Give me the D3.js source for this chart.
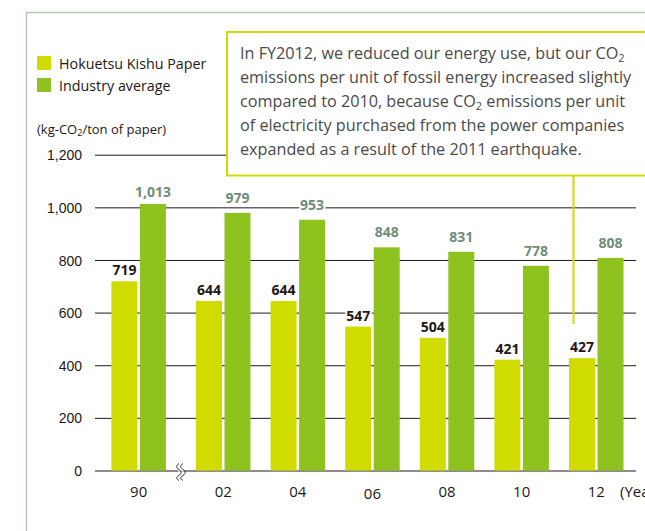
<!DOCTYPE html>
<html>
<head>
<meta charset="utf-8">
<script src="https://cdn.jsdelivr.net/npm/d3@7"></script>
<style>
  body { margin: 0; background: #fff; }
  svg { font-family: "Open Sans", sans-serif; }
  .tick line { stroke: #231815; }
  .tick text { fill: #231815; font-size: 14px; }
</style>
</head>
<body>
<svg id="svg" width="645" height="531"></svg>
<script>
var years = ["90", "02", "04", "06", "08", "10", "12"];
var hokuetsu = [719, 644, 644, 547, 504, 421, 427];
var industry = [1013, 979, 953, 848, 831, 778, 808];
var yTicks = [0, 200, 400, 600, 800, 1000, 1200];
var seriesNames = ["Hokuetsu Kishu Paper", "Industry average"];
var note = [
  [["In FY2012, we reduced our energy use, but our CO"], ["2", "sub"]],
  [["emissions per unit of fossil energy increased slightly"]],
  [["compared to 2010, because CO"], ["2", "sub"], [" emissions per unit"]],
  [["of electricity purchased from the power companies"]],
  [["expanded as a result of the 2011 earthquake."]]
];

var yellow = "#d0db00",
    green = "#8dc21f",
    ink = "#231815";

var svg = d3.select("#svg");

// frame
svg.append("path")
    .attr("d", "M26.5,531V12.5H645")
    .attr("fill", "none")
    .attr("stroke", "#b4c7b4")
    .attr("stroke-width", 1.5);

var y = d3.scaleLinear()
    .domain([0, 1200])
    .range([470.5, 154.7]);

// groups 02..12 evenly spaced, 90 sits before a axis break
var x = d3.scaleLinear()
    .domain([1, 6])
    .range([196, 569]);
var breakGap = 10;
var barW = 26, barGap = 2.5;

function groupX(i) {
  return i == 0 ? x(0) - breakGap : x(i);
}

svg.append("g")
    .attr("transform", "translate(95,0)")
    .call(d3.axisLeft(y)
      .tickValues(yTicks)
      .tickSize(-541)
      .tickPadding(13)
      .tickFormat(d3.format(",")))
  .call(function(g) { g.select(".domain").remove(); })
  .selectAll(".tick text")
    .attr("dy", "0.36em");

var groups = svg.append("g").selectAll("g")
    .data(years)
  .enter().append("g")
    .attr("transform", function(d, i) { return "translate(" + groupX(i) + ",0)"; });

groups.append("rect")
    .attr("x", 0)
    .attr("width", barW)
    .attr("y", function(d, i) { return y(hokuetsu[i]); })
    .attr("height", function(d, i) { return y(0) - y(hokuetsu[i]); })
    .attr("fill", yellow);

groups.append("rect")
    .attr("x", barW + barGap)
    .attr("width", barW)
    .attr("y", function(d, i) { return y(industry[i]); })
    .attr("height", function(d, i) { return y(0) - y(industry[i]); })
    .attr("fill", green);

// value labels (white halo breaks the gridlines like the original)
groups.append("text")
    .attr("x", barW / 2)
    .attr("y", function(d, i) { return y(hokuetsu[i]) - 6; })
    .attr("text-anchor", "middle")
    .attr("font-size", 14)
    .attr("font-weight", "bold")
    .attr("fill", ink)
    .attr("stroke", "#fff")
    .attr("stroke-width", 4)
    .attr("paint-order", "stroke")
    .text(function(d, i) { return d3.format(",")(hokuetsu[i]); });

groups.append("text")
    .attr("x", barW + barGap + barW / 2)
    .attr("y", function(d, i) { return y(industry[i]) - (i == 0 ? 7 : 10); })
    .attr("text-anchor", "middle")
    .attr("font-size", 14)
    .attr("font-weight", "bold")
    .attr("fill", "#6f8d78")
    .attr("stroke", "#fff")
    .attr("stroke-width", 4)
    .attr("paint-order", "stroke")
    .text(function(d, i) { return d3.format(",")(industry[i]); });

groups.append("text")
    .attr("x", barW + barGap / 2)
    .attr("y", function(d, i) { return i == 3 ? 499 : 497; })
    .attr("text-anchor", "middle")
    .attr("font-size", 15)
    .attr("fill", ink)
    .text(function(d) { return d; });

svg.append("text")
    .attr("x", 620)
    .attr("y", 497)
    .attr("font-size", 15)
    .attr("fill", ink)
    .text("(Year)");

// axis break mark
var bx = (groupX(0) + barW * 2 + barGap + groupX(1)) / 2;
svg.append("rect")
    .attr("x", bx - 3)
    .attr("y", y(0) - 1)
    .attr("width", 6)
    .attr("height", 2)
    .attr("fill", "#fff");
[-2, 2].forEach(function(o) {
  svg.append("path")
      .attr("d", "M" + (bx + o) + "," + (y(0) - 7) +
        "c-3,2 -3,4 0,6 c3,2 3,4 0,6 c-3,2 -3,3 0,5")
      .attr("fill", "none")
      .attr("stroke", ink)
      .attr("stroke-width", 0.9);
});

// legend
var legend = svg.append("g").selectAll("g")
    .data(seriesNames)
  .enter().append("g")
    .attr("transform", function(d, i) { return "translate(37," + (56 + i * 22) + ")"; });
legend.append("rect")
    .attr("width", 14)
    .attr("height", 14)
    .attr("fill", function(d, i) { return i == 0 ? yellow : green; });
legend.append("text")
    .attr("x", 22)
    .attr("y", 12.5)
    .attr("font-size", 14.3)
    .attr("fill", ink)
    .text(function(d) { return d; });

var unit = svg.append("text")
    .attr("x", 37)
    .attr("y", 134)
    .attr("font-size", 13)
    .attr("fill", ink);
unit.append("tspan").text("(kg-CO");
unit.append("tspan").attr("font-size", 9).attr("dy", 2).text("2");
unit.append("tspan").attr("dy", -2).text("/ton of paper)");

// annotation box
svg.append("line")
    .attr("x1", 573.5).attr("x2", 573.5)
    .attr("y1", 176).attr("y2", 324)
    .attr("stroke", yellow)
    .attr("stroke-width", 2);

svg.append("rect")
    .attr("x", 227)
    .attr("y", 32)
    .attr("width", 440)
    .attr("height", 143.5)
    .attr("fill", "#fff")
    .attr("stroke", yellow)
    .attr("stroke-width", 2);

var noteText = svg.append("text")
    .attr("font-size", 16.2)
    .attr("fill", "#4a4a4a");
note.forEach(function(line, li) {
  line.forEach(function(seg, si) {
    var t = noteText.append("tspan").text(seg[0]);
    if (si == 0) t.attr("x", 240).attr("y", 59 + li * 24);
    if (seg[1] == "sub") t.attr("font-size", 11).attr("dy", 3);
    else if (si > 0) t.attr("dy", -3);
  });
});
</script>
</body>
</html>
